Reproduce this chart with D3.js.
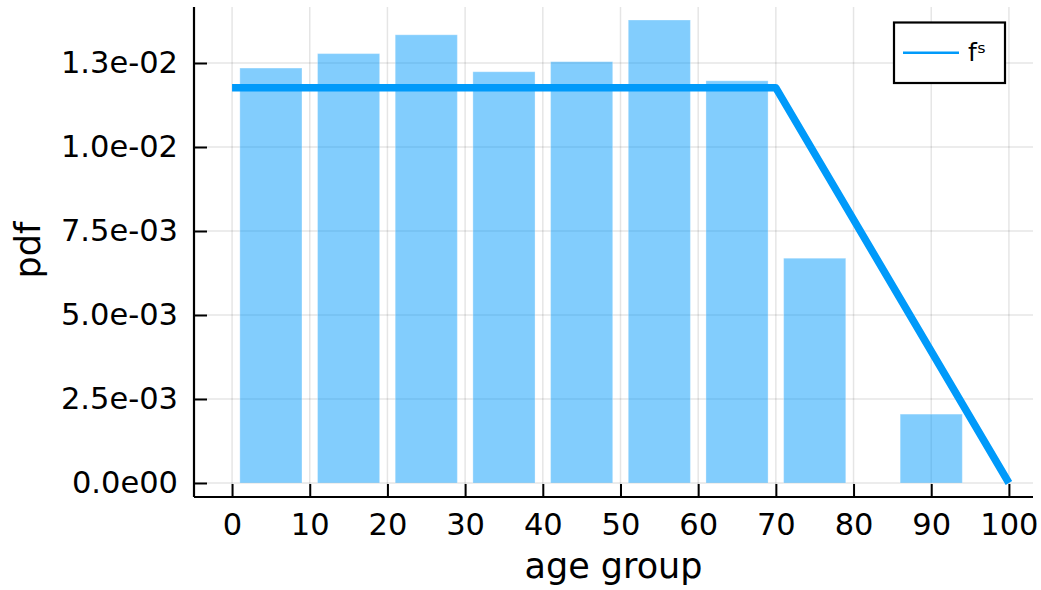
<!DOCTYPE html>
<html>
<head>
<meta charset="utf-8">
<script src="https://cdn.jsdelivr.net/npm/d3@7"></script>
<style>
html,body{margin:0;padding:0;background:#fff;}
text{font-family:"DejaVu Sans",sans-serif;fill:#000;}
</style>
</head>
<body>
<svg id="chart" width="1041" height="590"></svg>
<script>
// ---- data ----
const barCenters = [5, 15, 25, 35, 45, 55, 65, 75, 90];
const barValues = [0.01235, 0.01278, 0.01334, 0.01224, 0.01254, 0.01378, 0.01197, 0.00669, 0.00205];
const barWidth = 8;
const lineX = [0, 70, 100];
const lineY = [0.01176, 0.01176, 0];
const xTicks = [0, 10, 20, 30, 40, 50, 60, 70, 80, 90, 100];
const yTicks = [0, 0.0025, 0.005, 0.0075, 0.01, 0.0125];
const yTickLabels = ["0.0e00", "2.5e-03", "5.0e-03", "7.5e-03", "1.0e-02", "1.3e-02"];
const seriesName = "f\u02E2";
const xLabel = "age group";
const yLabel = "pdf";

const svg = d3.select("#chart");
const x = d3.scaleLinear().domain([-4.9, 103.1]).range([194, 1033]);
const y = d3.scaleLinear().domain([-0.000417, 0.014167]).range([497, 7]);
const [x0, x1] = x.range();
const [yb, yt] = y.range();

// grid
const grid = svg.append("g");
grid.selectAll("line.vx").data(xTicks).join("line")
  .attr("x1", d => x(d)).attr("x2", d => x(d)).attr("y1", yb).attr("y2", yt)
  .attr("stroke", "#000").attr("stroke-opacity", 0.1).attr("stroke-width", 1.5);
grid.selectAll("line.hy").data(yTicks).join("line")
  .attr("y1", d => y(d)).attr("y2", d => y(d)).attr("x1", x0).attr("x2", x1)
  .attr("stroke", "#000").attr("stroke-opacity", 0.1).attr("stroke-width", 1.5);

// bars
svg.append("g").selectAll("rect").data(barCenters).join("rect")
  .attr("x", (d) => x(d - barWidth / 2))
  .attr("width", d => x(d + barWidth / 2) - x(d - barWidth / 2))
  .attr("y", (d, i) => y(barValues[i]))
  .attr("height", (d, i) => y(0) - y(barValues[i]))
  .attr("fill", "#009AFA").attr("fill-opacity", 0.49)
  .attr("stroke", "#ffffff").attr("stroke-opacity", 0.3).attr("stroke-width", 1);

// line
const lineGen = d3.line().x(d => x(d[0])).y(d => y(d[1]));
svg.append("path").datum(lineX.map((v, i) => [v, lineY[i]]))
  .attr("d", lineGen).attr("fill", "none")
  .attr("stroke", "#009AFA").attr("stroke-width", 7.5).attr("stroke-linejoin", "round");

// axes
const xAxis = d3.axisBottom(x).tickValues(xTicks).tickSizeInner(-13).tickSizeOuter(0).tickPadding(16)
  .tickFormat(d3.format("d"));
const gx = svg.append("g").attr("transform", `translate(0,${yb})`).call(xAxis);
gx.select(".domain").remove();
gx.selectAll(".tick line").attr("stroke", "#000").attr("stroke-width", 2);
gx.selectAll(".tick text").attr("font-size", 30.5).attr("dy", "0.71em");

const yAxis = d3.axisLeft(y).tickValues(yTicks).tickSizeInner(-13).tickSizeOuter(0).tickPadding(16)
  .tickFormat((d, i) => yTickLabels[i]);
const gy = svg.append("g").attr("transform", `translate(${x0},0)`).call(yAxis);
gy.select(".domain").remove();
gy.selectAll(".tick line").attr("stroke", "#000").attr("stroke-width", 2);
gy.selectAll(".tick text").attr("font-size", 30.5);

svg.append("line").attr("x1", x0).attr("x2", x1).attr("y1", yb).attr("y2", yb)
  .attr("stroke", "#000").attr("stroke-width", 2.2);
svg.append("line").attr("x1", x0).attr("x2", x0).attr("y1", yb).attr("y2", yt)
  .attr("stroke", "#000").attr("stroke-width", 2.2);

// axis titles
svg.append("text").attr("x", (x0 + x1) / 2).attr("y", 578).attr("text-anchor", "middle")
  .attr("font-size", 35).text(xLabel);
svg.append("text").attr("transform", `translate(40,250) rotate(-90)`)
  .attr("text-anchor", "middle").attr("font-size", 35).text(yLabel);

// legend
const lg = svg.append("g");
lg.append("rect").attr("x", 894).attr("y", 22.5).attr("width", 111).attr("height", 60.5)
  .attr("fill", "#fff").attr("stroke", "#000").attr("stroke-width", 2.2);
lg.append("line").attr("x1", 903).attr("x2", 959).attr("y1", 52.7).attr("y2", 52.7)
  .attr("stroke", "#009AFA").attr("stroke-width", 2.5);
lg.append("text").attr("x", 968).attr("y", 52.7).attr("dy", "0.35em").attr("font-size", 25).text(seriesName);
</script>
</body>
</html>
